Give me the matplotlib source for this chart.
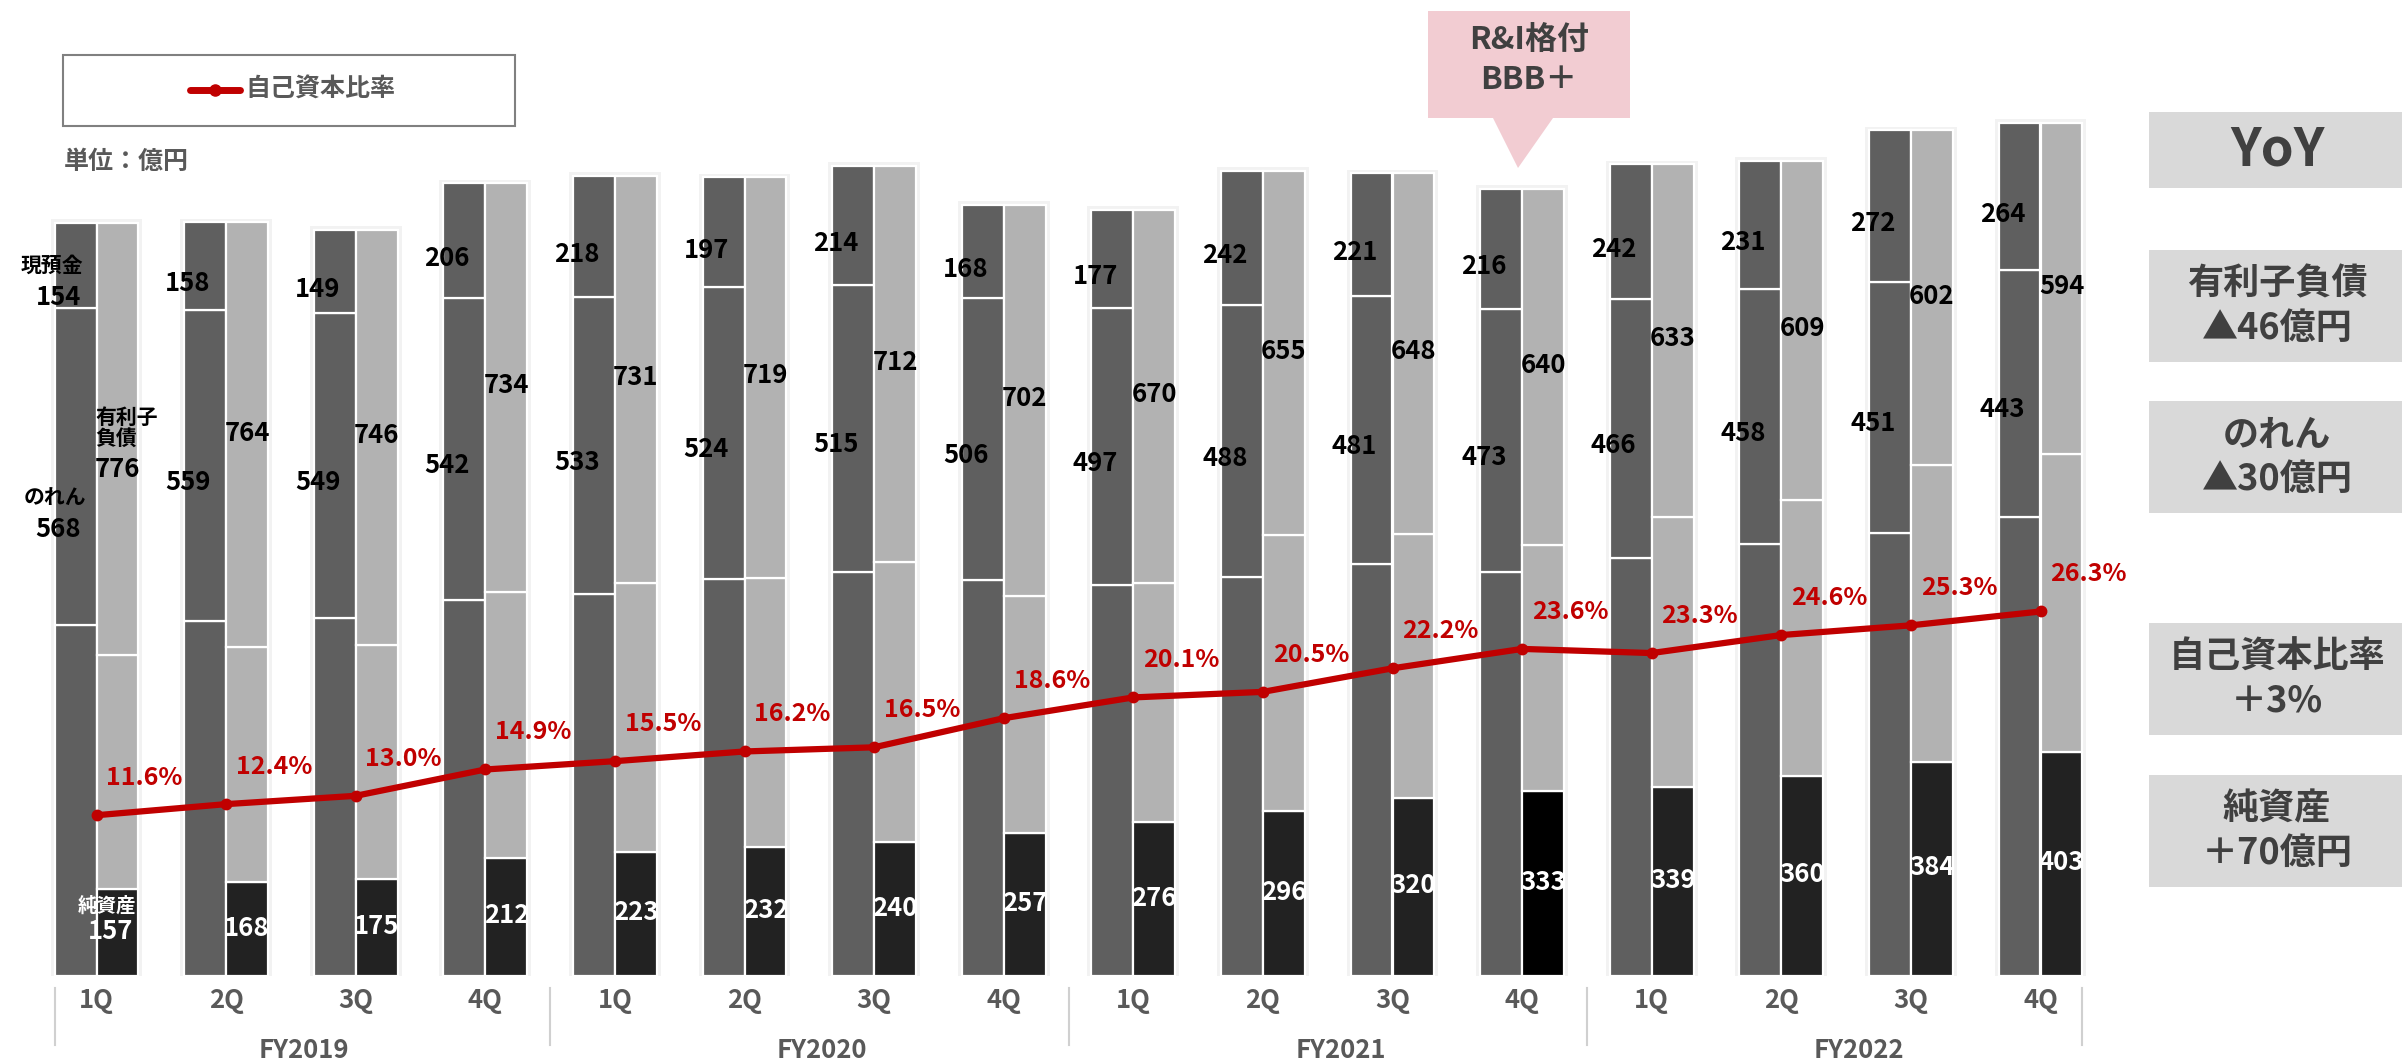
import numpy as np
import matplotlib.pyplot as plt
from matplotlib.patches import Rectangle, Polygon

plt.rcParams['font.family'] = ['Noto Sans CJK JP', 'DejaVu Sans']

# quarterly balance sheet data (億円)
quarters = ['1Q', '2Q', '3Q', '4Q'] * 4
years = ['FY2019', 'FY2020', 'FY2021', 'FY2022']
cash = [154, 158, 149, 206, 218, 197, 214, 168, 177, 242, 221, 216, 242, 231, 272, 264]
goodwill = [568, 559, 549, 542, 533, 524, 515, 506, 497, 488, 481, 473, 466, 458, 451, 443]
debt = [776, 764, 746, 734, 731, 719, 712, 702, 670, 655, 648, 640, 633, 609, 602, 594]
equity = [157, 168, 175, 212, 223, 232, 240, 257, 276, 296, 320, 333, 339, 360, 384, 403]
total_assets = [1353, 1354, 1340, 1424, 1437, 1434, 1455, 1385,
                1376, 1446, 1442, 1414, 1458, 1464, 1519, 1532]
equity_ratio = [11.6, 12.4, 13.0, 14.9, 15.5, 16.2, 16.5, 18.6,
                20.1, 20.5, 22.2, 23.6, 23.3, 24.6, 25.3, 26.3]

yoy_titles = ['有利子負債', 'のれん', '自己資本比率', '純資産']
yoy_values = ['▲46億円', '▲30億円', '＋3%', '＋70億円']

cash = np.array(cash)
goodwill = np.array(goodwill)
debt = np.array(debt)
equity = np.array(equity)
total_assets = np.array(total_assets)
other_assets = total_assets - cash - goodwill
other_liab = total_assets - debt - equity

W, H = 2402, 1063
fig = plt.figure(figsize=(W / 100, H / 100), dpi=100)

# main axes: baseline at y=976px, 0.5569 px per 億円
ax = fig.add_axes([31.7 / W, 87 / H, 2073.6 / W, 936 / H])
ax.set_xlim(-0.5, 15.5)
ax.set_ylim(0, 936 / 0.5569)
for s in ax.spines.values():
    s.set_visible(False)

x = np.arange(16)
bw = 0.324
xl = x - bw / 2
xr = x + bw / 2

dark = '#5f5f5f'
light = '#b2b2b2'
eq_colors = ['#000000' if i == 11 else '#222222' for i in x]

# light frame behind each pair
for i in x:
    ax.add_patch(Rectangle((i - bw - 0.03, -4), 2 * bw + 0.06, total_assets[i] + 10,
                           facecolor='#f2f2f2', edgecolor='none', zorder=0))

kw = dict(width=bw, edgecolor='white', linewidth=1.6, zorder=2)
ax.bar(xl, other_assets, color=dark, **kw)
ax.bar(xl, goodwill, bottom=other_assets, color=dark, **kw)
ax.bar(xl, cash, bottom=other_assets + goodwill, color=dark, **kw)
ax.bar(xr, equity, color=eq_colors, **kw)
ax.bar(xr, other_liab, bottom=equity, color=light, **kw)
ax.bar(xr, debt, bottom=equity + other_liab, color=light, **kw)

num_font = dict(fontsize=18.5, fontweight='bold', ha='center', va='center', zorder=5)
for i in x:
    lx = i - bw + 0.03
    cy = other_assets[i] + goodwill[i] + cash[i] / 2
    gy = other_assets[i] + goodwill[i] / 2
    dy = total_assets[i] - debt[i] / 2
    ey = equity[i] / 2
    if i == 0:
        # first quarter also carries the item names
        ax.text(lx - 0.05, cy, '現預金', fontsize=15, fontweight='bold', ha='center', va='center', zorder=5)
        ax.text(lx, cy - 58, f'{cash[i]}', **num_font)
        ax.text(lx - 0.03, gy - 57, 'のれん', fontsize=15, fontweight='bold', ha='center', va='center', zorder=5)
        ax.text(lx, gy - 114, f'{goodwill[i]}', **num_font)
        ax.text(xr[i] - bw / 2 - 0.01, dy + 20, '有利子\n負債', fontsize=15, fontweight='bold',
                ha='left', va='center', linespacing=1.0, zorder=5)
        ax.text(xr[i], dy - 55, f'{debt[i]}', **num_font)
        ax.text(xr[i] - 0.08, ey + 47, '純資産', fontsize=14, fontweight='bold', color='white',
                ha='center', va='center', zorder=5)
        ax.text(xr[i] - 0.05, ey + 2, f'{equity[i]}', color='white', **num_font)
    else:
        ax.text(lx, cy - 32, f'{cash[i]}', **num_font)
        ax.text(lx, gy - 30, f'{goodwill[i]}', **num_font)
        ax.text(xr[i], dy + 3, f'{debt[i]}', **num_font)
        ax.text(xr[i], ey + 2, f'{equity[i]}', color='white', **num_font)

ax.set_yticks([])
ax.set_xticks(x)
ax.set_xticklabels(quarters, fontsize=18.5, fontweight='bold', color='#595959')
ax.tick_params(axis='x', length=0, pad=8)

# year separators and labels
for sx in [-bw, 3.5, 7.5, 11.5, 15 + bw]:
    ax.plot([sx, sx], [-0.013, -0.074], color='#d0d0d0', lw=1.5,
            transform=ax.get_xaxis_transform(), clip_on=False)
for k, yr in enumerate(years):
    ax.text(4 * k + 1.6, -0.08, yr, fontsize=18.5, fontweight='bold', color='#595959',
            ha='center', va='center', transform=ax.get_xaxis_transform())

# equity ratio line
ax2 = ax.twinx()
ax2.set_ylim(0, 936 / 13.86)
ax2.axis('off')
ax2.plot(x, equity_ratio, color='#c00000', lw=4.5, marker='o', ms=7.5, zorder=4)
for i in x:
    ax2.annotate(f'{equity_ratio[i]:.1f}%', (x[i], equity_ratio[i]), xytext=(48, 37),
                 textcoords='offset pixels', ha='center', va='center',
                 fontsize=18, fontweight='bold', color='#c00000')

# overlay in pixel coordinates for decorations
ov = fig.add_axes([0, 0, 1, 1], zorder=10)
ov.set_xlim(0, W)
ov.set_ylim(H, 0)
ov.axis('off')
ov.patch.set_alpha(0)

# legend box
ov.add_patch(Rectangle((63, 55), 452, 71, facecolor='white', edgecolor='#808080', lw=1.5))
ov.plot([190, 240], [90, 90], color='#c00000', lw=5, solid_capstyle='round')
ov.plot([215], [90], 'o', color='#c00000', ms=8)
ov.text(245, 90, '自己資本比率', fontsize=18, fontweight='bold', color='#595959', va='center', ha='left')
ov.text(64, 162, '単位：億円', fontsize=18, fontweight='bold', color='#595959', va='center', ha='left')

# rating callout
ov.add_patch(Polygon([(1428, 11), (1630, 11), (1630, 118), (1553, 118), (1518, 168),
                      (1493, 118), (1428, 118)], closed=True, facecolor='#f2ccd2', edgecolor='none'))
ov.text(1529, 40, 'R&I格付', fontsize=23, fontweight='bold', color='#404040', ha='center', va='center')
ov.text(1529, 80, 'BBB＋', fontsize=23, fontweight='bold', color='#404040', ha='center', va='center')

# YoY boxes
ov.add_patch(Rectangle((2149, 112), 253, 76, facecolor='#d9d9d9', edgecolor='none'))
ov.text(2277, 150, 'YoY', fontsize=38, fontweight='bold', color='#404040', ha='center', va='center')
box_tops = [250, 401, 623, 775]
for top, t1, t2 in zip(box_tops, yoy_titles, yoy_values):
    ov.add_patch(Rectangle((2149, top), 253, 112, facecolor='#d9d9d9', edgecolor='none'))
    ov.text(2277, top + 34, t1, fontsize=26, fontweight='bold', color='#404040', ha='center', va='center')
    ov.text(2277, top + 78, t2, fontsize=26, fontweight='bold', color='#404040', ha='center', va='center')

fig.savefig('out.png', dpi=100)
